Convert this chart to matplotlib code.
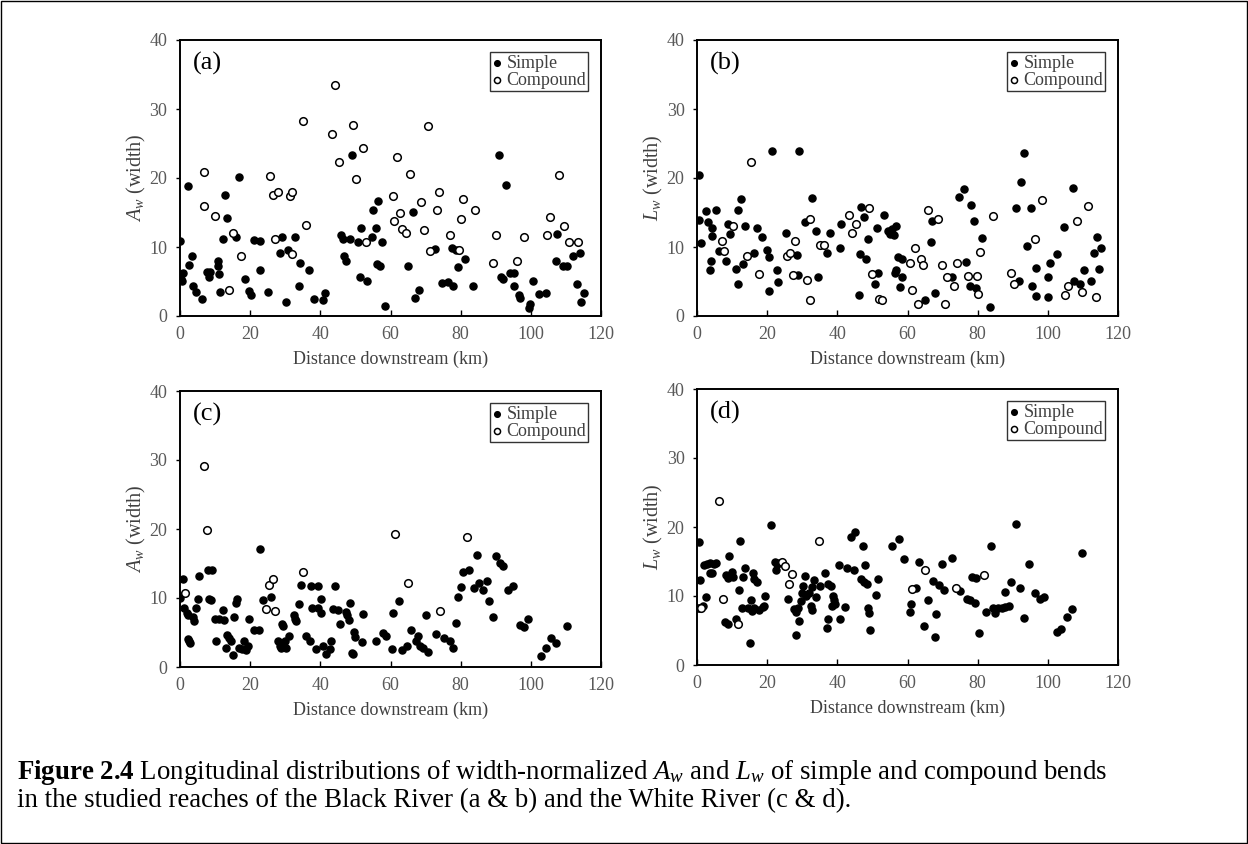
import matplotlib
matplotlib.use("Agg")
import matplotlib.pyplot as plt
from matplotlib.patches import Rectangle

plt.rcParams['font.family'] = ['Liberation Serif', 'DejaVu Serif']
plt.rcParams['mathtext.fontset'] = 'custom'
plt.rcParams['mathtext.rm'] = 'Liberation Serif'
plt.rcParams['mathtext.it'] = 'Liberation Serif:italic'
plt.rcParams['mathtext.bf'] = 'Liberation Serif:bold'

# ---- (a) Black River, A_w ----
a_simple_km = [0.0, 0.9, 0.3, 0.6, 2.2, 2.7, 3.3, 3.8, 4.7, 6.2, 7.7, 8.6, 8.4, 10.7, 10.9, 11.2, 11.5, 12.2,
               12.9, 13.3, 16.0, 16.7, 18.5, 19.8, 20.3, 21.0, 22.9, 22.7, 25.0, 28.4, 29.0, 30.3, 30.7, 32.7,
               34.1, 33.9, 36.9, 38.1, 40.9, 41.3, 46.0, 46.5, 48.4, 51.7, 46.7, 47.4, 48.9, 50.7, 51.4, 53.3,
               54.6, 55.1, 55.8, 56.5, 57.6, 56.2, 57.1, 58.4, 65.0, 66.5, 67.0, 68.0, 72.7, 74.6,
               76.3, 77.9, 77.4, 78.7, 79.3, 81.2, 83.4, 90.8, 93.0, 91.4, 92.2, 94.1, 95.3, 95.1, 96.5, 96.8,
               99.8, 99.6, 100.5, 102.4, 104.4, 107.4, 107.1, 109.1, 110.3, 112.0, 113.9, 113.1, 115.1, 114.4]
a_simple_val = [10.8, 6.2, 5.4, 5.1, 18.8, 7.4, 8.7, 4.4, 3.5, 2.5, 6.4, 6.4, 5.6, 8.0, 7.2, 6.1, 3.5, 11.2,
                17.6, 14.2, 11.4, 20.1, 5.3, 3.6, 3.1, 11.0, 10.8, 6.6, 3.5, 9.1, 11.4, 2.1, 9.6, 11.5,
                7.7, 4.4, 6.6, 2.4, 2.3, 3.3, 11.7, 11.2, 11.2, 12.8, 8.7, 8.0, 23.4, 10.7, 5.6, 5.1,
                11.5, 15.3, 12.7, 16.7, 10.7, 7.6, 7.3, 1.4, 7.2, 15.1, 2.6, 3.8, 9.7, 4.8,
                5.0, 4.4, 9.9, 9.5, 7.1, 8.3, 4.4, 23.4, 19.0, 5.7, 5.3, 6.2, 6.3, 4.4, 3.1, 2.6,
                1.8, 1.1, 5.1, 3.2, 3.4, 11.9, 7.9, 7.3, 7.3, 8.7, 9.2, 4.6, 3.3, 2.1]
a_comp_km = [44.1, 6.9, 6.7, 10.0, 15.0, 14.1, 17.4, 25.6, 26.5, 27.9, 27.1, 31.3, 31.9, 32.0, 35.1, 36.0,
             43.4, 45.3, 49.4, 52.2, 50.1, 53.1, 70.6, 61.9, 65.5, 60.6, 62.7, 61.0, 63.4, 64.4, 68.7, 69.6,
             73.9, 73.3, 71.4, 77.0, 80.6, 80.0, 79.6, 84.1, 90.1, 89.3, 96.0, 98.0, 104.7, 105.5, 109.5,
             108.1, 111.0, 113.4]
a_comp_val = [33.5, 20.8, 15.9, 14.5, 12.0, 3.8, 8.7, 20.3, 17.5, 18.0, 11.1, 17.4, 18.0, 9.0, 28.2, 13.2,
              26.4, 22.3, 27.7, 24.3, 19.8, 10.7, 27.5, 23.1, 20.6, 17.4, 15.0, 13.7, 12.6, 12.0, 16.5, 12.5,
              17.9, 15.4, 9.4, 11.7, 16.9, 14.1, 9.5, 15.3, 11.8, 7.7, 8.0, 11.4, 11.8, 14.3, 13.0,
              20.4, 10.7, 10.7]

# ---- (b) Black River, L_w ----
b_simple_km = [0.7, 0.5, 1.2, 2.5, 3.1, 4.4, 4.2, 4.0, 3.8, 5.4, 6.4, 8.2, 8.8, 9.4, 11.0, 11.6, 11.8, 12.4,
               13.2, 13.7, 16.2, 17.0, 18.6, 20.0, 20.6, 20.4, 23.1, 21.4, 22.8, 25.3, 28.5, 29.0, 28.8, 30.8,
               32.8, 33.9, 34.4, 37.0, 37.9, 40.8, 41.0, 46.2, 46.4, 46.7, 47.5, 48.2, 48.8, 50.7, 51.2, 51.6,
               53.3, 54.4, 55.0, 55.6, 56.2, 56.7, 57.2, 58.4, 56.6, 56.3, 58.4, 57.8, 65.0, 66.7, 66.9, 67.9,
               72.6, 74.8, 76.2, 78.1, 79.0, 76.7, 77.7, 79.5, 81.2, 83.6, 93.3, 92.4, 90.9, 91.7, 95.1, 94.2,
               95.5, 96.7, 96.7, 100.0, 100.1, 100.5, 102.5, 104.5, 107.1, 107.6, 109.3, 110.3, 112.2, 113.1,
               114.1, 114.7, 115.2]
b_simple_val = [20.5, 13.9, 10.6, 15.2, 13.6, 12.8, 11.6, 8.0, 6.6, 15.4, 9.4, 8.0, 13.4, 11.9, 6.8, 4.7, 15.4, 16.9,
                7.5, 13.0, 9.2, 12.7, 11.5, 9.6, 8.6, 3.6, 5.0, 23.9, 6.7, 12.1, 8.9, 23.9, 6.0, 13.6,
                17.1, 12.3, 5.7, 9.1, 12.1, 9.8, 13.3, 3.0, 9.0, 15.8, 14.4, 8.3, 11.2, 4.6, 12.7, 6.2,
                14.6, 12.3, 11.9, 12.6, 11.8, 13.1, 8.5, 8.2, 6.6, 6.2, 5.6, 4.2, 2.3, 10.7, 13.7, 3.4,
                5.6, 17.3, 18.4, 16.1, 13.8, 7.8, 4.3, 4.1, 11.3, 1.3, 23.6, 19.4, 15.7, 5.1, 15.6, 10.2,
                4.4, 6.9, 2.9, 5.6, 2.8, 7.7, 9.0, 12.9, 18.6, 5.1, 4.7, 6.6, 5.1, 9.1,
                11.4, 6.8, 9.9]
b_comp_km = [15.3, 10.4, 7.1, 7.6, 14.3, 17.6, 25.7, 26.6, 27.3, 27.8, 31.3, 32.1, 32.3, 35.1, 36.1, 43.4,
             44.2, 45.3, 49.1, 50.0, 51.9, 52.8, 62.0, 60.7, 61.4, 62.9, 63.9, 64.5, 65.8, 68.8, 69.8, 70.7,
             71.2, 73.3, 74.1, 77.2, 79.8, 80.1, 80.7, 84.3, 89.5, 90.3, 96.2, 98.4, 105.0, 105.8, 108.2,
             109.6, 111.4, 113.6]
b_comp_val = [22.3, 13.1, 10.8, 9.4, 8.7, 6.1, 8.7, 9.2, 6.0, 10.8, 5.2, 14.0, 2.3, 10.3, 10.3, 14.7,
              12.1, 13.3, 15.6, 6.1, 2.4, 2.3, 9.8, 7.7, 3.8, 1.7, 8.2, 7.4, 15.4, 14.0, 7.4, 1.8,
              5.7, 4.3, 7.7, 5.8, 5.8, 3.2, 9.3, 14.5, 6.2, 4.7, 11.1, 16.8, 3.1, 4.3, 13.7,
              3.5, 15.9, 2.7]

# ---- (c) White River, A_w ----
c_simple_km = [0.0, 0.8, 1.0, 1.9, 2.2, 2.4, 2.9, 2.7, 3.8, 3.9, 4.6, 5.0, 5.5, 8.1, 9.1, 8.4, 8.9, 10.3, 10.1,
               11.2, 12.2, 12.4, 13.0, 13.3, 14.1, 14.6, 15.0, 15.5, 16.2, 16.0, 16.7, 17.7, 18.7, 18.1, 19.3,
               19.6, 21.2, 22.5, 22.7, 23.6, 26.0, 27.9, 28.4, 28.9, 29.3, 30.0, 30.3, 29.3, 29.0, 31.2, 32.4,
               32.9, 33.1, 33.8, 34.4, 35.8, 37.0, 37.4, 39.3, 37.6, 39.3, 38.9, 40.1, 40.3, 40.8, 41.5, 42.7,
               43.0, 44.3, 43.6, 45.0, 45.5, 47.2, 47.7, 48.2, 48.4, 49.5, 49.8, 49.0, 49.3, 51.9, 52.2, 56.0,
               57.9, 58.7, 60.5, 60.8, 62.5, 63.4, 64.8, 65.8, 67.9, 67.4, 68.4, 69.3, 70.6, 70.0, 73.1, 75.2,
               77.1, 77.9, 78.7, 79.3, 80.0, 80.6, 82.5, 83.9, 85.3, 86.5, 87.4, 84.6, 88.2, 89.3, 90.0, 91.2,
               92.2, 93.4, 94.9, 96.8, 98.1, 99.3, 103.0, 104.3, 105.8, 107.2, 110.3]
c_simple_val = [10.0, 12.7, 8.6, 7.8, 7.6, 4.0, 3.5, 3.7, 7.3, 6.7, 8.5, 9.8, 13.2, 14.1, 14.0, 9.9, 9.7, 3.7, 6.9,
                6.9, 8.3, 6.8, 2.7, 4.7, 4.2, 3.7, 1.8, 7.3, 9.9, 9.3, 2.7, 2.6, 2.5, 3.8, 3.0,
                6.9, 5.3, 5.4, 17.1, 9.7, 10.2, 3.8, 3.0, 2.7, 3.3, 3.8, 2.7, 5.9, 6.2, 4.5, 7.5,
                6.9, 6.6, 9.2, 11.9, 4.5, 3.8, 11.8, 11.7, 8.5, 8.5, 2.6, 9.9, 7.8, 3.1, 1.9, 2.6,
                3.7, 11.7, 8.4, 8.3, 6.3, 8.0, 7.5, 6.8, 9.3, 5.1, 4.3, 2.1, 1.9, 3.6, 7.7, 3.7,
                5.0, 4.5, 2.6, 7.8, 9.5, 2.4, 3.0, 5.4, 4.5, 3.8, 3.1, 2.8, 2.2, 7.5, 4.8, 4.2,
                3.8, 2.7, 6.4, 10.2, 11.6, 13.8, 14.1, 11.4, 12.2, 11.2, 12.5, 16.2, 9.6, 7.3, 16.1, 15.1,
                14.7, 11.1, 11.8, 6.1, 5.8, 7.0, 1.6, 2.8, 4.2, 3.5, 5.9]
c_comp_km = [6.7, 7.6, 1.4, 25.3, 26.5, 24.6, 27.2, 35.0, 61.4, 65.0, 74.1, 81.7]
c_comp_val = [29.2, 19.9, 10.7, 11.9, 12.7, 8.4, 8.1, 13.7, 19.3, 12.2, 8.1, 18.8]

# ---- (d) White River, L_w ----
d_simple_km = [0.6, 0.3, 0.8, 1.7, 0.9, 1.9, 2.5, 2.8, 3.6, 4.3, 4.8, 5.4, 3.8, 9.1, 8.3, 8.8, 10.0, 10.4, 8.1,
               8.8, 11.9, 11.1, 12.3, 13.0, 12.8, 14.4, 13.7, 15.1, 15.4, 15.8, 16.3, 16.0, 16.3, 17.1, 17.7,
               18.7, 19.2, 19.4, 21.0, 22.3, 22.9, 23.4, 22.5, 25.8, 27.6, 28.3, 28.8, 28.3, 29.1, 29.7, 29.8,
               30.3, 30.9, 31.2, 31.9, 32.4, 32.7, 32.7, 33.3, 34.0, 35.2, 36.6, 37.3, 37.1, 37.4, 38.3, 38.7,
               39.0, 39.2, 38.5, 40.6, 40.7, 42.1, 42.7, 44.7, 44.0, 44.9, 47.2, 46.8, 47.7, 48.4, 48.0, 48.7,
               49.1, 49.3, 50.9, 51.5, 55.6, 57.5, 59.0, 60.6, 60.9, 62.3, 63.2, 64.6, 65.8, 67.2, 67.7, 68.1,
               69.1, 70.3, 69.8, 72.8, 75.0, 76.9, 77.8, 79.1, 78.3, 79.5, 80.5, 82.3, 83.7, 84.3, 84.9, 85.9,
               86.8, 87.7, 88.9, 87.9, 89.6, 90.8, 92.0, 93.1, 94.6, 96.4, 97.8, 98.9, 102.6, 103.8, 105.5,
               106.8, 109.7]
d_simple_val = [17.8, 8.3, 8.3, 8.5, 12.3, 14.5, 9.9, 14.6, 13.3, 13.4, 14.7, 14.8, 14.8, 15.8, 13.0, 12.6, 13.5, 12.8, 6.3,
                5.9, 10.9, 6.6, 18.0, 12.8, 8.3, 8.3, 14.1, 3.2, 9.4, 7.8, 8.2, 13.4, 12.4, 12.0, 8.0,
                8.4, 8.6, 10.0, 20.3, 15.0, 14.6, 14.8, 13.7, 9.5, 8.1, 7.7, 8.3, 4.3, 6.4, 9.3, 10.5,
                11.4, 12.9, 10.0, 10.5, 8.6, 8.0, 11.3, 12.3, 9.9, 11.4, 13.4, 11.7, 5.3, 6.6, 11.4, 10.0,
                9.4, 8.8, 8.5, 14.5, 6.6, 8.4, 14.1, 13.8, 18.6, 19.3, 17.3, 12.5, 12.0, 11.7, 14.5, 8.2,
                7.5, 5.1, 10.2, 12.4, 17.2, 18.2, 15.3, 7.7, 8.9, 11.2, 14.9, 5.7, 9.4, 12.2, 4.0, 7.4,
                11.6, 10.9, 14.7, 15.5, 10.7, 9.5, 9.4, 9.0, 12.8, 12.6, 4.6, 7.7, 17.3, 8.2, 7.6, 8.2,
                8.3, 8.4, 8.6, 10.6, 12.0, 20.5, 11.1, 6.8, 14.6, 10.5, 9.6, 9.9, 4.8, 5.2, 6.9,
                8.1, 16.2]
d_comp_km = [6.4, 7.5, 11.6, 1.2, 24.3, 25.0, 27.0, 26.2, 34.7, 61.3, 64.9, 73.9, 81.8]
d_comp_val = [23.7, 9.5, 5.9, 8.2, 14.9, 14.3, 13.2, 11.7, 18.0, 11.0, 13.7, 11.1, 13.0]

tick_grey = '#595959'
label_grey = '#404040'

fig = plt.figure(figsize=(12.48, 8.44), dpi=100)


def draw_panel(rect, sx, sy, cx, cy, letter, ylab):
    ax = fig.add_axes(rect)
    ax.scatter(sx, sy, s=26, color='black', zorder=3, label='Simple')
    ax.scatter(cx, cy, s=30, facecolors='white', edgecolors='black', linewidths=1.1, zorder=3, label='Compound')
    ax.set_xlim(0, 120)
    ax.set_ylim(0, 40)
    ax.set_xticks(range(0, 121, 20))
    ax.set_yticks(range(0, 41, 10))
    ax.tick_params(axis='x', direction='in', length=4, width=1, labelsize=13, labelcolor=tick_grey, pad=7)
    ax.tick_params(axis='y', direction='out', length=3, width=1, labelsize=13, labelcolor=tick_grey, pad=6)
    for sp in ax.spines.values():
        sp.set_linewidth(1.4)
    ax.set_xlabel('Distance downstream (km)', fontsize=13, color=label_grey, labelpad=6)
    ax.set_ylabel(ylab, fontsize=14.5, color=label_grey, labelpad=1)
    ax.text(0.03, 0.915, letter, transform=ax.transAxes, fontsize=19, va='center', ha='left')
    leg = ax.legend(loc='upper right', bbox_to_anchor=(0.97, 0.955), frameon=True, fancybox=False,
                    fontsize=13, handlelength=0.5, handletextpad=0.3, borderpad=0.12, labelspacing=0.0,
                    borderaxespad=0, markerscale=0.8)
    leg.get_frame().set_edgecolor('black')
    leg.get_frame().set_linewidth(1.0)
    for t in leg.get_texts():
        t.set_color(label_grey)
    return ax


w = 421 / 1248
h = 276 / 844
draw_panel([180 / 1248, 1 - 316 / 844, w, h], a_simple_km, a_simple_val, a_comp_km, a_comp_val, '(a)', r'$A_w$ (width)')
draw_panel([697 / 1248, 1 - 316 / 844, w, h], b_simple_km, b_simple_val, b_comp_km, b_comp_val, '(b)', r'$L_w$ (width)')
draw_panel([180 / 1248, 1 - 667 / 844, w, h], c_simple_km, c_simple_val, c_comp_km, c_comp_val, '(c)', r'$A_w$ (width)')
draw_panel([697 / 1248, 1 - 665 / 844, w, h], d_simple_km, d_simple_val, d_comp_km, d_comp_val, '(d)', r'$L_w$ (width)')

caption1 = (r'$\mathbf{Figure\ 2.4}$ Longitudinal distributions of width-normalized $A_w$ and $L_w$ '
            r'of simple and compound bends')
caption2 = 'in the studied reaches of the Black River (a & b) and the White River (c & d).'
fig.text(17 / 1248, 1 - 779 / 844, caption1, fontsize=19.4, va='baseline', ha='left')
fig.text(17 / 1248, 1 - 807 / 844, caption2, fontsize=19.4, va='baseline', ha='left')

fig.patches.append(Rectangle((0.0008, 0.0012), 0.9984, 0.9976, transform=fig.transFigure,
                             fill=False, edgecolor='black', linewidth=1.0))

fig.savefig('out.png', dpi=100)
